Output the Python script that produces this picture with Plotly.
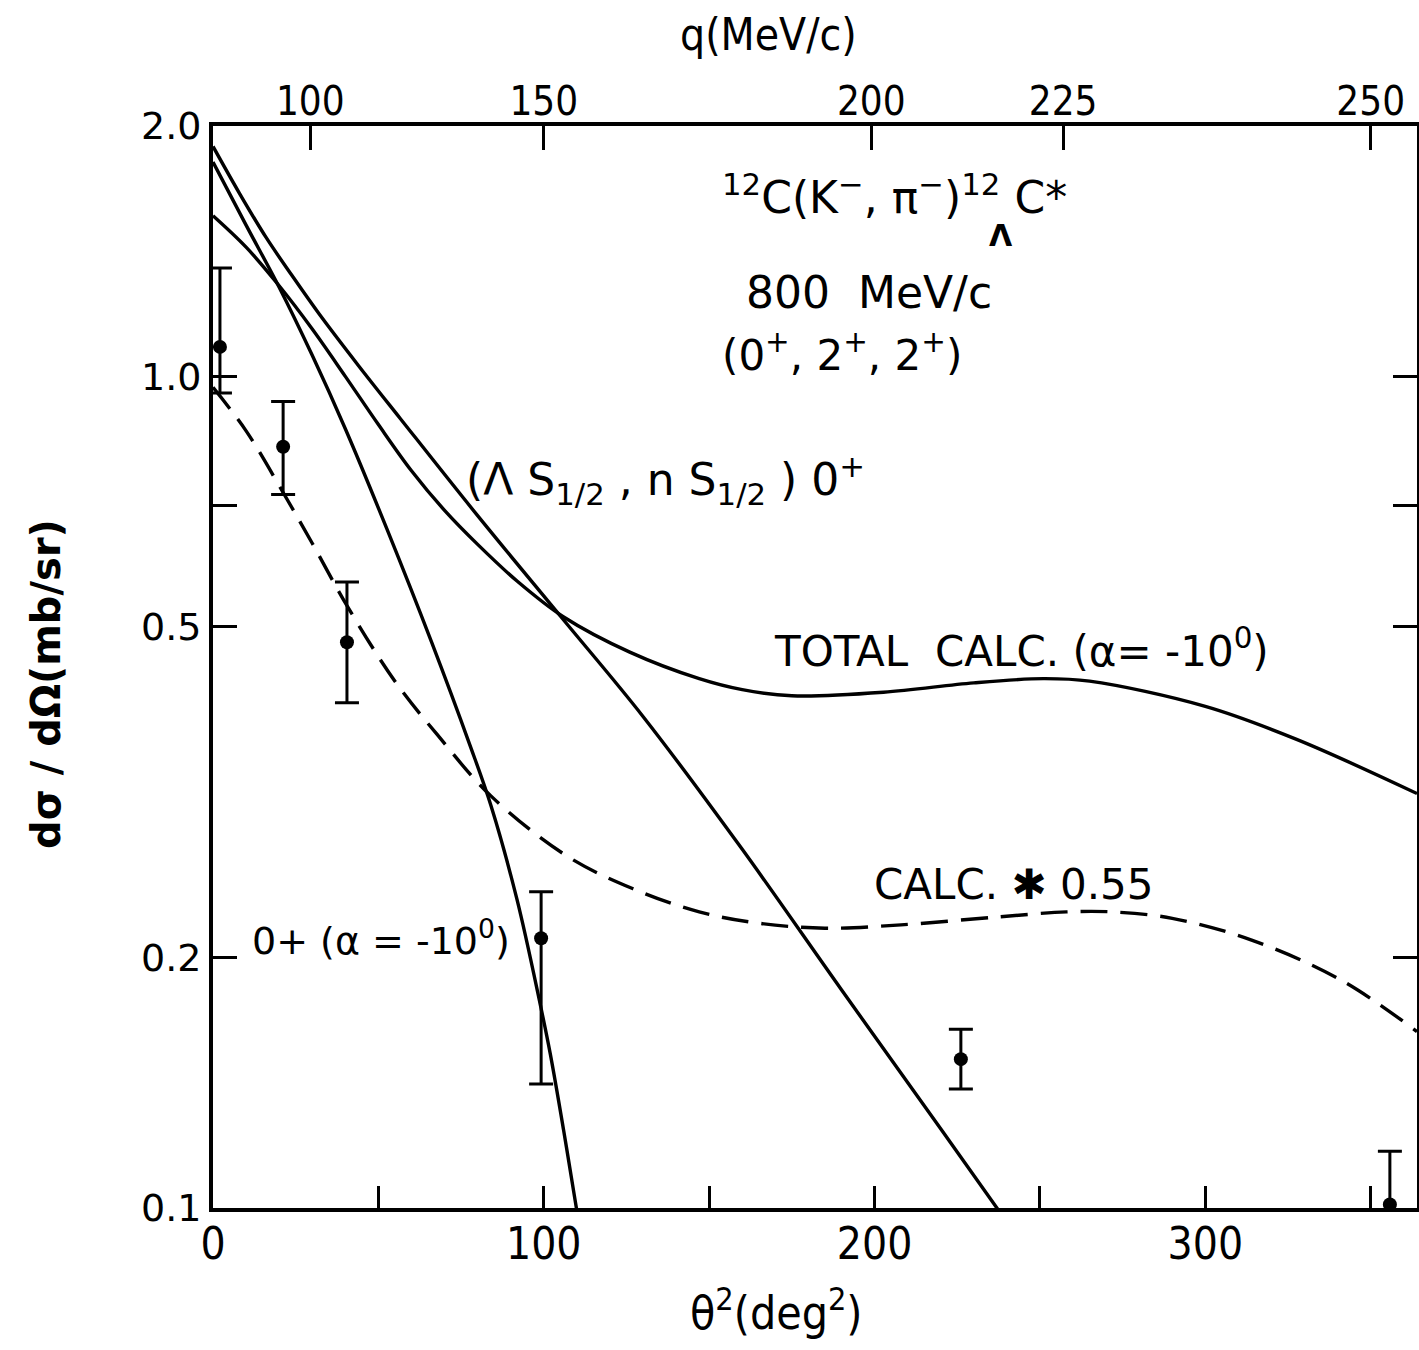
import plotly.graph_objects as go

# ---------------- data ----------------
# (Lambda s1/2, n s1/2) 0+ component
theta2_A = [0, 8, 16, 24, 32, 44, 56.6, 80, 105, 130, 159.4, 190, 220, 240]
sig_A = [1.89, 1.66, 1.47, 1.32, 1.19, 1.03, 0.89, 0.68, 0.515, 0.39, 0.272, 0.183, 0.1245, 0.0962]

# 0+ (alpha = -10 deg)
theta2_B = [0, 10, 20, 30, 40, 52.6, 66, 77.7, 84, 91.9, 98.9, 102, 106, 109.5, 112]
sig_B = [1.81, 1.52, 1.28, 1.06, 0.865, 0.655, 0.48, 0.36, 0.305, 0.235, 0.176, 0.153, 0.124,
         0.102, 0.089]

# total calc (alpha = -10 deg)
theta2_C = [0, 10, 20, 30, 40, 50, 60, 70, 80, 92, 105.9, 126, 147, 160, 175, 202.7, 230, 251,
            265, 300, 327.6, 364]
sig_C = [1.56, 1.43, 1.285, 1.14, 1.00, 0.875, 0.77, 0.69, 0.628, 0.567, 0.514, 0.466, 0.433, 0.42,
         0.413, 0.417, 0.428, 0.433, 0.430, 0.401, 0.366, 0.315]

# calc * 0.55 (dashed)
theta2_D = [0, 10, 21.2, 30, 40.5, 55, 68, 84, 107, 127, 147, 165, 185, 208, 238, 258, 272,
            290, 314, 341, 364]
sig_D = [0.97, 0.86, 0.725, 0.63, 0.53, 0.43, 0.37, 0.313, 0.265, 0.242, 0.227, 0.220, 0.217,
         0.219, 0.224, 0.227, 0.227, 0.223, 0.210, 0.188, 0.163]

# measured points
theta2_pts = [2.1, 21.2, 40.5, 99.2, 226.1, 355.8]
sig_pts = [1.085, 0.823, 0.479, 0.211, 0.151, 0.101]
sig_hi = [1.35, 0.933, 0.566, 0.240, 0.164, 0.117]
sig_lo = [0.955, 0.721, 0.405, 0.141, 0.139, 0.090]

# axis ticks
x_tickvals = [0, 50, 100, 150, 200, 250, 300, 350]
x_ticktext = ["0", "", "100", "", "200", "", "300", ""]
y_tickvals = [0.1, 0.2, 0.5, 0.7, 1.0, 2.0]
y_ticktext = ["0.1", "0.2", "0.5", "", "1.0", "2.0"]
q_labels = ["100", "150", "200", "225", "250"]
q_theta2 = [29.4, 100.0, 199.0, 257.0, 350.0]

X_MAX = 364

# ---------------- figure ----------------
FONT = "DejaVu Sans"
COND = "DejaVu Sans Condensed, Liberation Sans Narrow, DejaVu Sans"
LINE = dict(color="black", width=3.4)

fig = go.Figure()
for xs, ys in [(theta2_A, sig_A), (theta2_B, sig_B), (theta2_C, sig_C)]:
    fig.add_trace(go.Scatter(x=xs, y=ys, mode="lines", line=dict(LINE, shape="spline", smoothing=1.0),
                             showlegend=False, hoverinfo="skip"))
fig.add_trace(go.Scatter(x=theta2_D, y=sig_D, mode="lines",
                         line=dict(color="black", width=3.4, dash="27px,13px", shape="spline", smoothing=1.0),
                         showlegend=False, hoverinfo="skip"))
fig.add_trace(go.Scatter(
    x=theta2_pts, y=sig_pts, mode="markers",
    marker=dict(color="black", size=14),
    error_y=dict(type="data", symmetric=False,
                 array=[h - v for h, v in zip(sig_hi, sig_pts)],
                 arrayminus=[v - l for v, l in zip(sig_pts, sig_lo)],
                 color="black", thickness=3, width=12),
    showlegend=False, hoverinfo="skip"))
# helper trace so the top (q) axis is drawn
fig.add_trace(go.Scatter(x=[0, X_MAX], y=[1, 1], xaxis="x2", mode="lines",
                         line=dict(width=0), opacity=0, showlegend=False, hoverinfo="skip"))

L, R, T, B = 213, 1417, 126, 1208


def ann(text, x, y, size, xanchor="left", yanchor="middle", family=FONT, angle=0):
    return dict(text=text, x=(x - L) / (R - L), y=(B - y) / (B - T), xref="paper", yref="paper",
                showarrow=False, xanchor=xanchor, yanchor=yanchor, textangle=angle,
                font=dict(family=family, size=size, color="black"))


annotations = [
    ann("<sup>12</sup>C(K<sup>−</sup>, π<sup>−</sup>)<sup>12</sup> C*", 720, 194, 44),
    ann("<b>Λ</b>", 1001, 236, 30, xanchor="center"),
    ann("800  MeV/c", 744, 292, 44),
    ann("(0<sup>+</sup>, 2<sup>+</sup>, 2<sup>+</sup>)", 720, 352, 42),
    ann("(Λ S<sub>1/2</sub> , n S<sub>1/2</sub> ) 0<sup>+</sup>", 464, 480, 44),
    ann("TOTAL  CALC. (α= -10<sup>0</sup>)", 772, 648, 42),
    ann("CALC. ✱ 0.55", 872, 884, 42),
    ann("0+ (α = -10<sup>0</sup>)", 250, 938, 38),
    ann("q(MeV/c)", 768, 34, 44, xanchor="center", family=COND),
    ann("θ<sup>2</sup>(deg<sup>2</sup>)", 776, 1310, 46, xanchor="center", family=COND),
    ann("<b>dσ / dΩ(mb/sr)</b>", 46, 684, 40, xanchor="center", angle=-90),
]

fig.update_layout(
    width=1419, height=1350, autosize=False,
    margin=dict(l=L, r=1419 - R, t=T, b=1350 - B, pad=0),
    paper_bgcolor="white", plot_bgcolor="white",
    showlegend=False,
    annotations=annotations,
    xaxis=dict(range=[0, X_MAX], tickmode="array", tickvals=x_tickvals, ticktext=x_ticktext,
               ticks="inside", ticklen=22, tickwidth=3, tickcolor="black",
               showline=True, linewidth=4, linecolor="black", mirror=True,
               showgrid=False, zeroline=False, automargin=False,
               tickfont=dict(family=COND, size=44, color="black"), ticklabelstandoff=-6),
    xaxis2=dict(range=[0, X_MAX], overlaying="x", side="top", tickmode="array",
                tickvals=q_theta2, ticktext=q_labels,
                ticks="inside", ticklen=24, tickwidth=3, tickcolor="black",
                showline=False, showgrid=False, zeroline=False, automargin=False,
                tickfont=dict(family=COND, size=40, color="black"), ticklabelstandoff=2),
    yaxis=dict(type="log", range=[-1, 0.30103], tickmode="array", tickvals=y_tickvals,
               ticktext=y_ticktext, ticks="inside", ticklen=24, tickwidth=3, tickcolor="black",
               showline=True, linewidth=4, linecolor="black", mirror="ticks",
               showgrid=False, zeroline=False, automargin=False,
               tickfont=dict(family=FONT, size=38, color="black"), ticklabelstandoff=0),
)

fig.write_html("out.html", config={"displayModeBar": False},
               post_script="document.body.style.margin='0px';")
